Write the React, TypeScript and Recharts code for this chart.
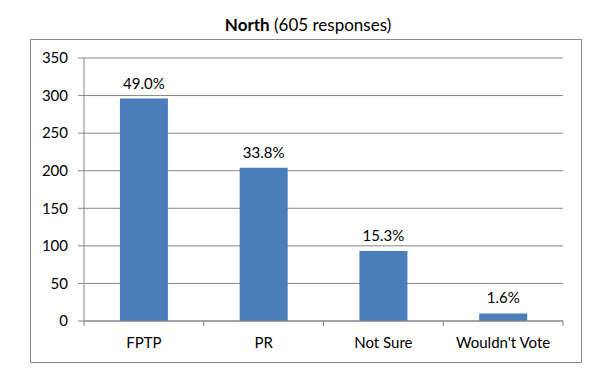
import React from 'react';
import { BarChart, Bar, XAxis, YAxis, CartesianGrid, LabelList } from 'recharts';

const categories = ['FPTP', 'PR', 'Not Sure', "Wouldn't Vote"];
const counts = [296, 204, 93, 10];
const percentLabels = ['49.0%', '33.8%', '15.3%', '1.6%'];
const yTicks = [0, 50, 100, 150, 200, 250, 300, 350];

const data = categories.map((c, i) => ({ name: c, value: counts[i], pct: percentLabels[i] }));

const W = 607;
const H = 392;
const M = { top: 58, right: 44, bottom: 41, left: 0 };
const Y_AXIS_W = 84;
const X_AXIS_H = 30;
const PLOT_W = W - M.left - M.right - Y_AXIS_W;
const FONT = 'Lato, "Open Sans", sans-serif';
const GRAY = '#868686';

const XTick = (props: any) => {
  const { x, y, payload, index } = props;
  const step = PLOT_W / categories.length;
  const axisY = y - 8;
  const last = index === categories.length - 1;
  return (
    <g>
      <line x1={x - step / 2} x2={x - step / 2} y1={axisY} y2={axisY + 5} stroke={GRAY} />
      {last && <line x1={x + step / 2} x2={x + step / 2} y1={axisY} y2={axisY + 5} stroke={GRAY} />}
      <text x={x} y={axisY + 27} textAnchor="middle" fontSize={15} fill="#000" fontFamily={FONT}>
        {payload.value}
      </text>
    </g>
  );
};

export default function App() {
  return (
    <div style={{ position: 'absolute', left: 0, top: 0, width: W, height: H, background: '#fff' }}>
      <svg width={W} height={H} style={{ position: 'absolute', left: 0, top: 0 }}>
        <rect x={30.5} y={39.5} width={551} height={323} fill="none" stroke="#8a8a8a" />
        <text x={308} y={31} textAnchor="middle" fontSize={17} fontFamily={FONT} fill="#000">
          <tspan fontWeight="bold">North</tspan>
          <tspan> (605 responses)</tspan>
        </text>
      </svg>
      <div style={{ position: 'absolute', left: 0, top: 0 }}>
        <BarChart width={W} height={H} data={data} margin={M} barCategoryGap="30%">
          <CartesianGrid vertical={false} stroke={GRAY} strokeDasharray="" />
          <XAxis
            dataKey="name"
            height={X_AXIS_H}
            axisLine={{ stroke: GRAY }}
            tickLine={false}
            tick={<XTick />}
            interval={0}
          />
          <YAxis
            width={Y_AXIS_W}
            domain={[0, 350]}
            ticks={yTicks}
            interval={0}
            axisLine={{ stroke: GRAY }}
            tickLine={{ stroke: GRAY }}
            tickSize={6}
            tickMargin={10}
            tick={{ fontSize: 15, fill: '#000', fontFamily: FONT }}
          />
          <Bar dataKey="value" fill="#4A7EBB" isAnimationActive={false}>
            <LabelList dataKey="pct" position="top" offset={10} fontSize={15} fill="#000" fontFamily={FONT} />
          </Bar>
        </BarChart>
      </div>
    </div>
  );
}
